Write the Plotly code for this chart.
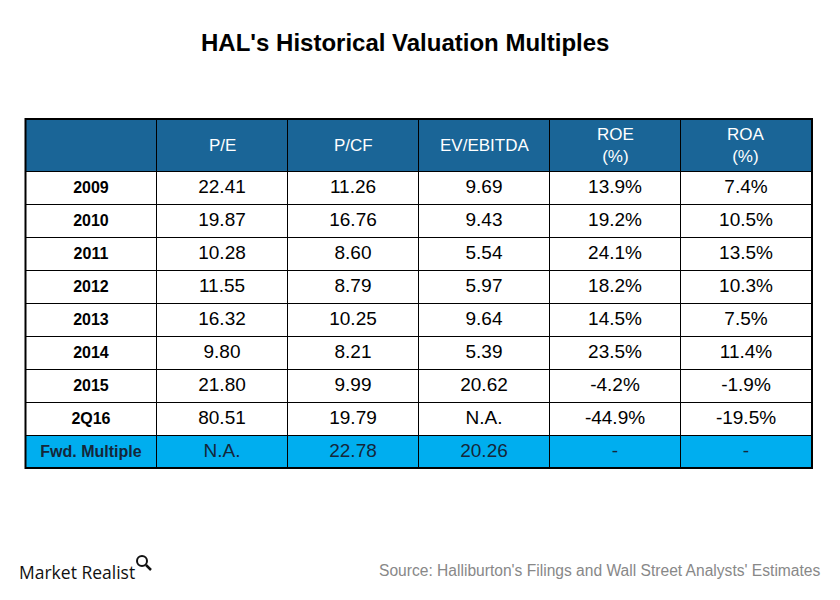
import plotly.graph_objects as go

title = "HAL's Historical Valuation Multiples"
headers = ["", "P/E", "P/CF", "EV/EBITDA", "ROE<br>(%)", "ROA<br>(%)"]
periods = ["2009", "2010", "2011", "2012", "2013", "2014", "2015", "2Q16", "Fwd. Multiple"]
pe = ["22.41", "19.87", "10.28", "11.55", "16.32", "9.80", "21.80", "80.51", "N.A."]
pcf = ["11.26", "16.76", "8.60", "8.79", "10.25", "8.21", "9.99", "19.79", "22.78"]
ev_ebitda = ["9.69", "9.43", "5.54", "5.97", "9.64", "5.39", "20.62", "N.A.", "20.26"]
roe = ["13.9%", "19.2%", "24.1%", "18.2%", "14.5%", "23.5%", "-4.2%", "-44.9%", "-"]
roa = ["7.4%", "10.5%", "13.5%", "10.3%", "7.5%", "11.4%", "-1.9%", "-19.5%", "-"]
source = "Source: Halliburton's Filings and Wall Street Analysts' Estimates"

W, H = 840, 600
TL, TR, TT = 25.5, 812.0, 119.0   # table frame in pixels
HEAD_H, ROW_H = 52, 33

cols = [[f"<b>{p}</b>" for p in periods], pe, pcf, ev_ebitda, roe, roa]
n = len(periods)
fills = [["white"] * (n - 1) + ["#00AEEF"] for _ in cols]
fcolors = [["black"] * (n - 1) + ["#15273a"] for _ in cols]
fsizes = [16] + [19] * 5

fig = go.Figure(go.Table(
    domain=dict(x=[TL / W, TR / W], y=[0, 1 - TT / H]),
    columnwidth=[1] * len(headers),
    header=dict(values=[""] * len(headers), fill_color="#1A6597",
                line=dict(color="black", width=1), height=HEAD_H),
    cells=dict(values=cols, fill_color=fills, line=dict(color="black", width=1),
               font=dict(family="Arial", size=fsizes, color=fcolors), align="center", height=ROW_H),
))

# header labels, vertically centred in the header band
cw = (TR - TL) / len(headers)
for i, h in enumerate(headers):
    if h:
        fig.add_annotation(text=h, x=(TL + (i + 0.5) * cw) / W, y=1 - (TT + HEAD_H / 2) / H,
                           xref="paper", yref="paper", xanchor="center", yanchor="middle",
                           showarrow=False, font=dict(family="Arial", size=17, color="white"))

# thicker outer frame
bottom = TT + HEAD_H + ROW_H * n
fig.add_shape(type="rect", xref="paper", yref="paper", x0=TL / W, x1=TR / W,
              y0=1 - bottom / H, y1=1 - TT / H, line=dict(color="black", width=2))

fig.add_annotation(text=f"<b>{title}</b>", x=405 / W, y=1 - 42 / H, xref="paper", yref="paper",
                   xanchor="center", yanchor="middle", showarrow=False,
                   font=dict(family="Arial", size=24, color="black"))
fig.add_annotation(text=source, x=823 / W, y=1 - 570 / H, xref="paper", yref="paper",
                   xanchor="right", yanchor="middle", showarrow=False,
                   font=dict(family="Arial", size=15.6, color="#888888"))
fig.add_annotation(text="Market Realist", x=17 / W, y=1 - 572 / H, xref="paper", yref="paper",
                   xanchor="left", yanchor="middle", showarrow=False,
                   font=dict(family="Open Sans", size=17.5, color="#111111"))
# small magnifier mark of the logo
fig.add_shape(type="circle", xref="paper", yref="paper", x0=137 / W, x1=147 / W,
              y0=1 - 566 / H, y1=1 - 556 / H, line=dict(color="#111111", width=2))
fig.add_shape(type="line", xref="paper", yref="paper", x0=146 / W, x1=151 / W,
              y0=1 - 565 / H, y1=1 - 570 / H, line=dict(color="#111111", width=2.5))

fig.update_layout(width=W, height=H, margin=dict(l=0, r=0, t=0, b=0),
                  paper_bgcolor="white", plot_bgcolor="white")
fig.write_html("out.html", config={"displayModeBar": False},
               post_script="document.body.style.margin='0';")
